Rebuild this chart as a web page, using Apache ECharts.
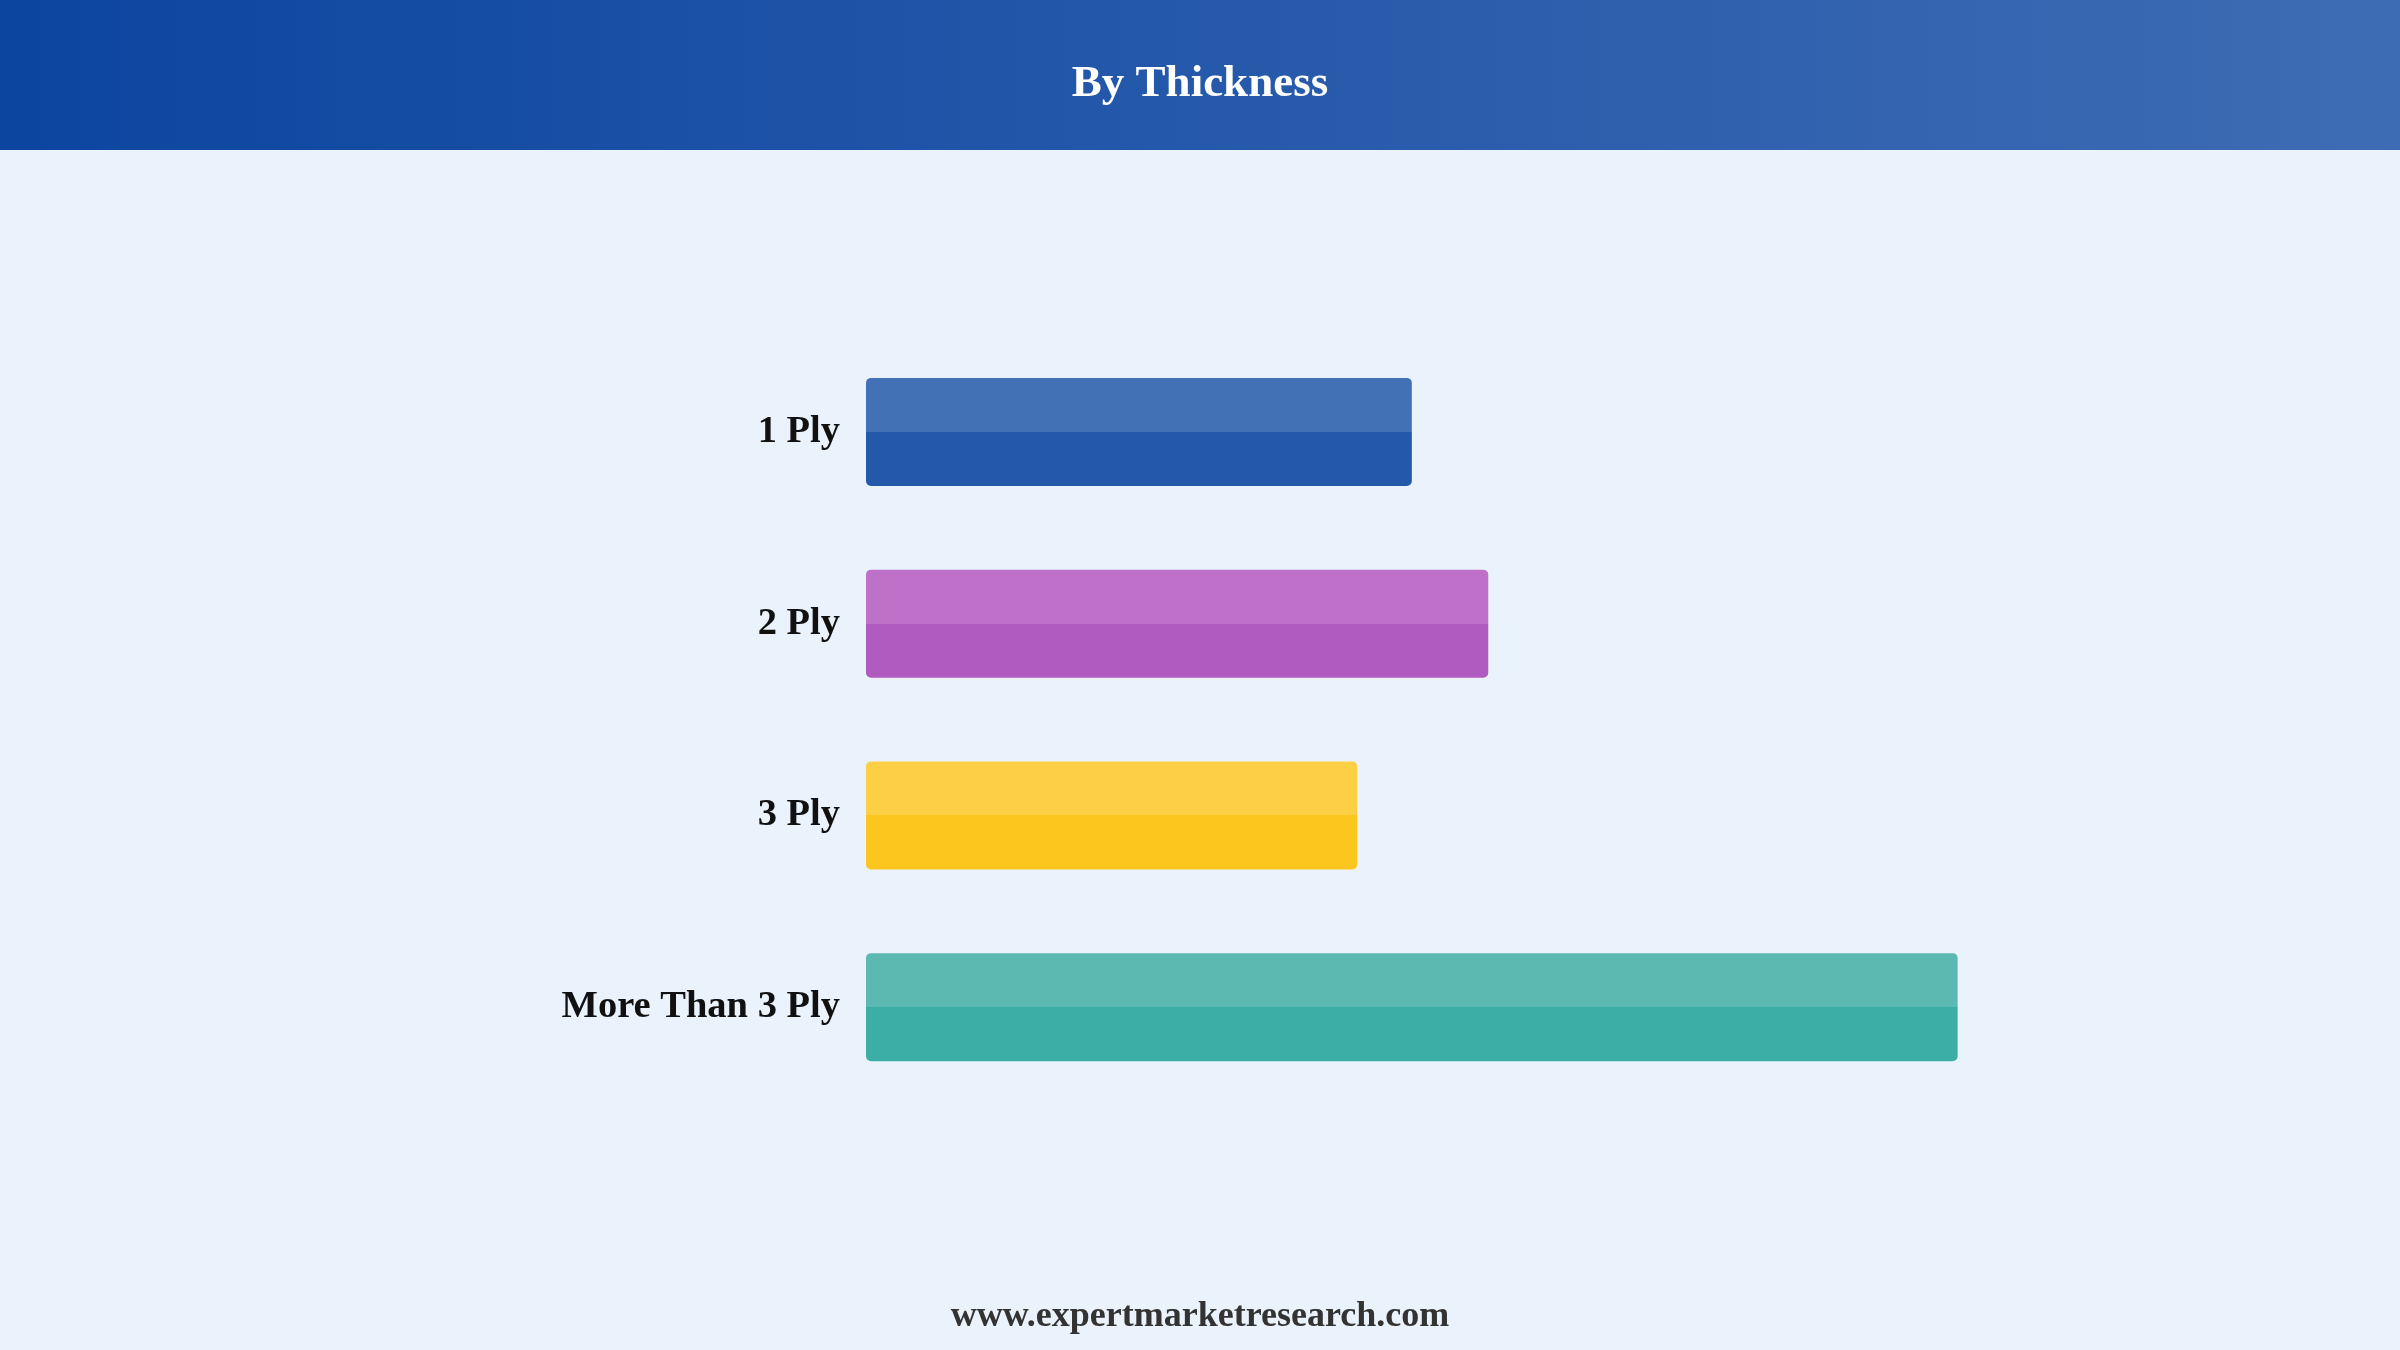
<!DOCTYPE html>
<html>
<head>
<meta charset="utf-8">
<script src="https://cdn.jsdelivr.net/npm/echarts@6/dist/echarts.min.js"></script>
<style>
  html, body { margin: 0; padding: 0; background: #eaf2fc; }
  #chart { width: 2400px; height: 1350px; }
</style>
</head>
<body>
<div id="chart"></div>
<script>
// categories, top to bottom
var categories = ['1 Ply', '2 Ply', '3 Ply', 'More Than 3 Ply'];
// relative share (no axis shown)
var values = [25, 28.5, 22.5, 50];
// [top half, bottom half] colour per bar
var topColors = ['#4371b5', '#bf71c9', '#fdcf45', '#5bb9b1'];
var bottomColors = ['#2459aa', '#b05bbf', '#fdc61f', '#3caea5'];

var chart = echarts.init(document.getElementById('chart'));

function twoTone(i) {
  return new echarts.graphic.LinearGradient(0, 0, 0, 1, [
    { offset: 0, color: topColors[i] },
    { offset: 0.5, color: topColors[i] },
    { offset: 0.5, color: bottomColors[i] },
    { offset: 1, color: bottomColors[i] }
  ]);
}

var option = {
  backgroundColor: '#eaf2fc',
  graphic: [
    {
      type: 'rect',
      left: 0, top: 0, z: 0,
      shape: { width: 2400, height: 150 },
      style: {
        fill: new echarts.graphic.LinearGradient(0, 0, 1, 0, [
          { offset: 0, color: '#0c45a0' },
          { offset: 1, color: '#3e6cb4' }
        ])
      }
    }
  ],
  title: [
    {
      text: 'By Thickness',
      left: 'center',
      top: 57,
      textStyle: { color: '#ffffff', fontFamily: 'Liberation Serif', fontWeight: 'bold', fontSize: 45 }
    },
    {
      text: 'www.expertmarketresearch.com',
      left: 'center',
      top: 1294,
      textStyle: { color: '#333333', fontFamily: 'Liberation Serif', fontWeight: 'bold', fontSize: 36 }
    }
  ],
  grid: { left: 866, right: 224, top: 336, bottom: 247 },
  xAxis: {
    type: 'value',
    min: 0,
    max: 60,
    show: false
  },
  yAxis: {
    type: 'category',
    inverse: true,
    data: categories,
    axisLine: { show: false },
    axisTick: { show: false },
    axisLabel: {
      margin: 26,
      color: '#111111',
      fontFamily: 'Liberation Serif',
      fontWeight: 'bold',
      fontSize: 38.5,
      lineHeight: 46,
      verticalAlign: 'middle',
      padding: [8, 0, 0, 0]
    }
  },
  series: [
    {
      type: 'bar',
      barWidth: 108,
      data: values.map(function (v, i) {
        return { value: v, itemStyle: { color: twoTone(i), borderRadius: 5 } };
      }),
      label: { show: false }
    }
  ]
};

chart.setOption(option);
</script>
</body>
</html>
